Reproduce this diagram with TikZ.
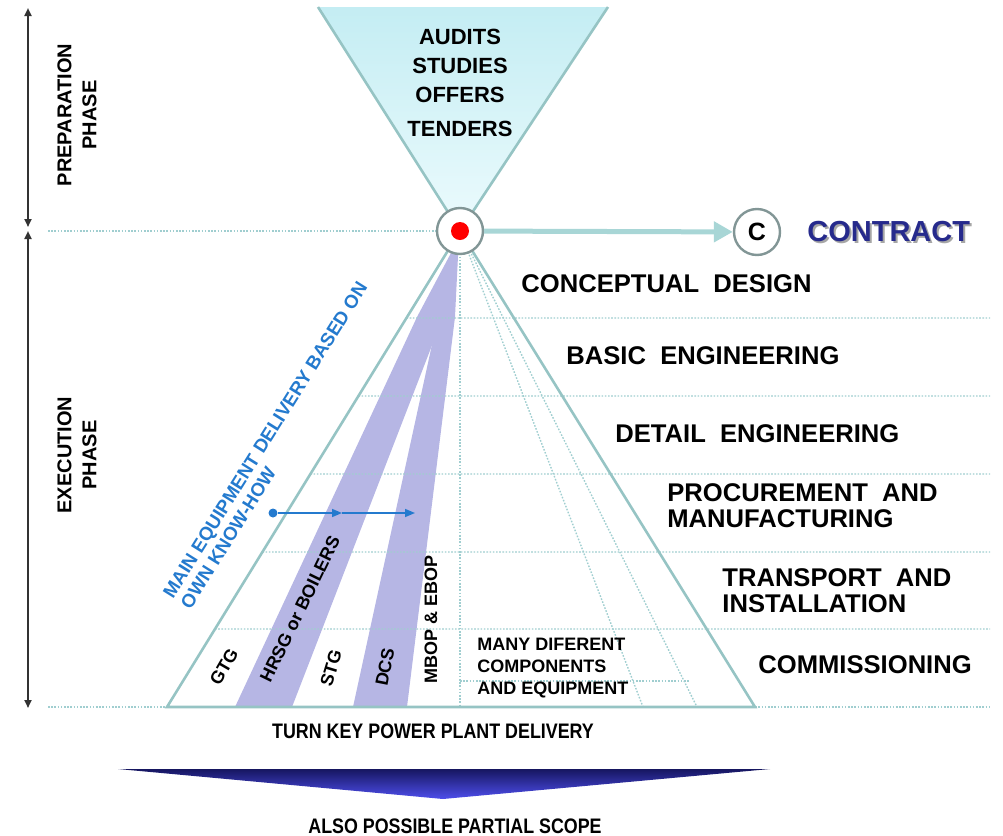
\documentclass[tikz,border=0pt]{standalone}
\usepackage{fontspec}
\setmainfont{Liberation Sans}
\usetikzlibrary{arrows.meta,calc}

\definecolor{rimteal}{RGB}{150,196,196}
\definecolor{dotteal}{RGB}{160,206,208}
\definecolor{funneltop}{RGB}{196,237,243}
\definecolor{funnelbot}{RGB}{236,251,253}
\definecolor{bandblue}{RGB}{182,182,228}
\definecolor{knowblue}{RGB}{36,122,206}
\definecolor{contractblue}{RGB}{38,42,140}
\definecolor{arrowteal}{RGB}{168,214,214}
\definecolor{hubgray}{RGB}{130,150,150}
\definecolor{chevtop}{RGB}{22,22,96}
\definecolor{chevbot}{RGB}{78,78,236}

\begin{document}
\begin{tikzpicture}[x=0.5pt,y=-0.5pt,
  rim/.style={draw=rimteal,line width=1.3pt},
  dotline/.style={draw=dotteal,line width=0.7pt,dash pattern=on 0.8pt off 0.8pt},
  hub/.style={circle,draw=hubgray,line width=1.2pt,fill=white,minimum size=23pt,inner sep=0pt},
  phaselabel/.style={font=\bfseries\fontsize{10}{12.5}\selectfont,align=center,rotate=90},
  stagelabel/.style={font=\bfseries\fontsize{12.8}{13}\selectfont,align=left,anchor=west,inner sep=0pt},
  bandlabel/.style={font=\bfseries\fontsize{9}{11}\selectfont,inner sep=0pt},
  phasearrow/.style={draw=black!80,line width=1pt,{Triangle[length=4pt,width=3.5pt]}-{Triangle[length=4pt,width=3.5pt]}},
  knowarrow/.style={draw=knowblue,line width=0.8pt,-{Triangle[length=5pt,width=4pt]}}]
  \useasboundingbox (0,0) rectangle (1003,836);

  \coordinate (apex) at (460,231);
  \coordinate (bl) at (167,707);
  \coordinate (br) at (755,707);
  \coordinate (fl) at (318,7);
  \coordinate (fr) at (608,7);

  \shade[top color=funneltop,bottom color=funnelbot] (fl) -- (fr) -- (apex) -- cycle;
  \fill[bandblue] (235,707) -- (417,317) -- (460,236) -- (443,317) -- (292,707) -- cycle;
  \fill[bandblue] (353,707) -- (438,317) -- (459,236) -- (455,317) -- (407,707) -- cycle;

  \foreach \yy in {318,396,474,552,629}
    \draw[dotline] ($(apex)!{(\yy-231)/476}!(bl)$) -- (990,\yy);
  \foreach \bx in {460,643,697}
    \draw[dotline] (apex) -- (\bx,707);
  \draw[dotline] (460,681) -- (690,681);
  \draw[dotline] (48,231) -- (apex);
  \draw[dotline] (48,707) -- (990,707);

  \draw[rim] (bl) -- (apex) -- (br) -- cycle;
  \draw[rim] (fl) -- (apex) -- (fr);

  \node[hub] (ctr) at (apex) {};
  \node[circle,fill=red,minimum size=9pt,inner sep=0pt] (reddot) at (ctr) {};
  \node[hub,font=\bfseries\fontsize{12.5}{12.5}\selectfont] (cnode) at (757,232) {C};
  \draw[draw=arrowteal,line width=2.5pt,-{Triangle[length=9.5pt,width=10pt]}] (ctr) -- (cnode);
  \node[anchor=west,inner sep=0pt,text=black!35,font=\bfseries\fontsize{14.5}{14.5}\selectfont] (contractsh) at (809,234) {CONTRACT};
  \node[anchor=west,inner sep=0pt,text=contractblue,font=\bfseries\fontsize{14.5}{14.5}\selectfont] (contract) at (807,232) {CONTRACT};

  \node[align=center,font=\bfseries\fontsize{11}{14.5}\selectfont] (prep) at (460,83) {AUDITS\\STUDIES\\OFFERS\\[2.5pt]TENDERS};

  \coordinate (ptop) at (28,8);
  \coordinate (pmid) at (28,227);
  \coordinate (emid) at (28,231);
  \coordinate (ebot) at (28,708);
  \draw[phasearrow] (ptop) -- (pmid);
  \draw[phasearrow] (emid) -- (ebot);
  \node[phaselabel] (preplabel) at (77,115) {PREPARATION\\PHASE};
  \node[phaselabel] (execlabel) at (77,455) {EXECUTION\\PHASE};

  \node[stagelabel] (concept) at (521,284) {CONCEPTUAL\ \ DESIGN};
  \node[stagelabel] (basic) at (566,356) {BASIC\ \ ENGINEERING};
  \node[stagelabel] (detail) at (615,434) {DETAIL\ \ ENGINEERING};
  \node[stagelabel] (procure) at (667,506) {PROCUREMENT\ \ AND\\MANUFACTURING};
  \node[stagelabel] (transport) at (722,591) {TRANSPORT\ \ AND\\INSTALLATION};
  \node[stagelabel] (commission) at (758,665) {COMMISSIONING};

  \node[bandlabel,rotate=60] (gtg) at (224,667) {GTG};
  \node[bandlabel,rotate=64] (hrsg) at (300,609) {HRSG or BOILERS};
  \node[bandlabel,rotate=73] (stg) at (331,668) {STG};
  \node[bandlabel,rotate=79] (dcs) at (385,667) {DCS};
  \node[bandlabel,rotate=90] (mbop) at (431,619) {MBOP \& EBOP};
  \node[bandlabel,align=left,anchor=west] (many) at (477,668) {MANY DIFERENT\\COMPONENTS\\AND EQUIPMENT};

  \node[bandlabel,align=left,anchor=south west,rotate=58,text=knowblue,font=\bfseries\fontsize{9.4}{10.4}\selectfont] (knowhow) at (191,611) {MAIN EQUIPMENT DELIVERY BASED ON\\OWN KNOW-HOW};
  \node[circle,fill=knowblue,minimum size=4.5pt,inner sep=0pt] (kdot) at (273,513) {};
  \coordinate (kmid) at (342,513);
  \coordinate (kend) at (415,513);
  \draw[knowarrow] (kdot) -- (kmid);
  \draw[knowarrow] (kmid) -- (kend);

  \node[font=\bfseries\fontsize{10.5}{10.5}\selectfont] (turnkey) at (433,731) {\scalebox{0.85}[1]{TURN KEY POWER PLANT DELIVERY}};
  \shade[top color=chevtop,bottom color=chevbot] (118,769) -- (770,769) -- (443,799) -- cycle;
  \node[font=\bfseries\fontsize{10.5}{10.5}\selectfont] (partial) at (455,826) {\scalebox{0.85}[1]{ALSO POSSIBLE PARTIAL SCOPE}};
\end{tikzpicture}
\end{document}
